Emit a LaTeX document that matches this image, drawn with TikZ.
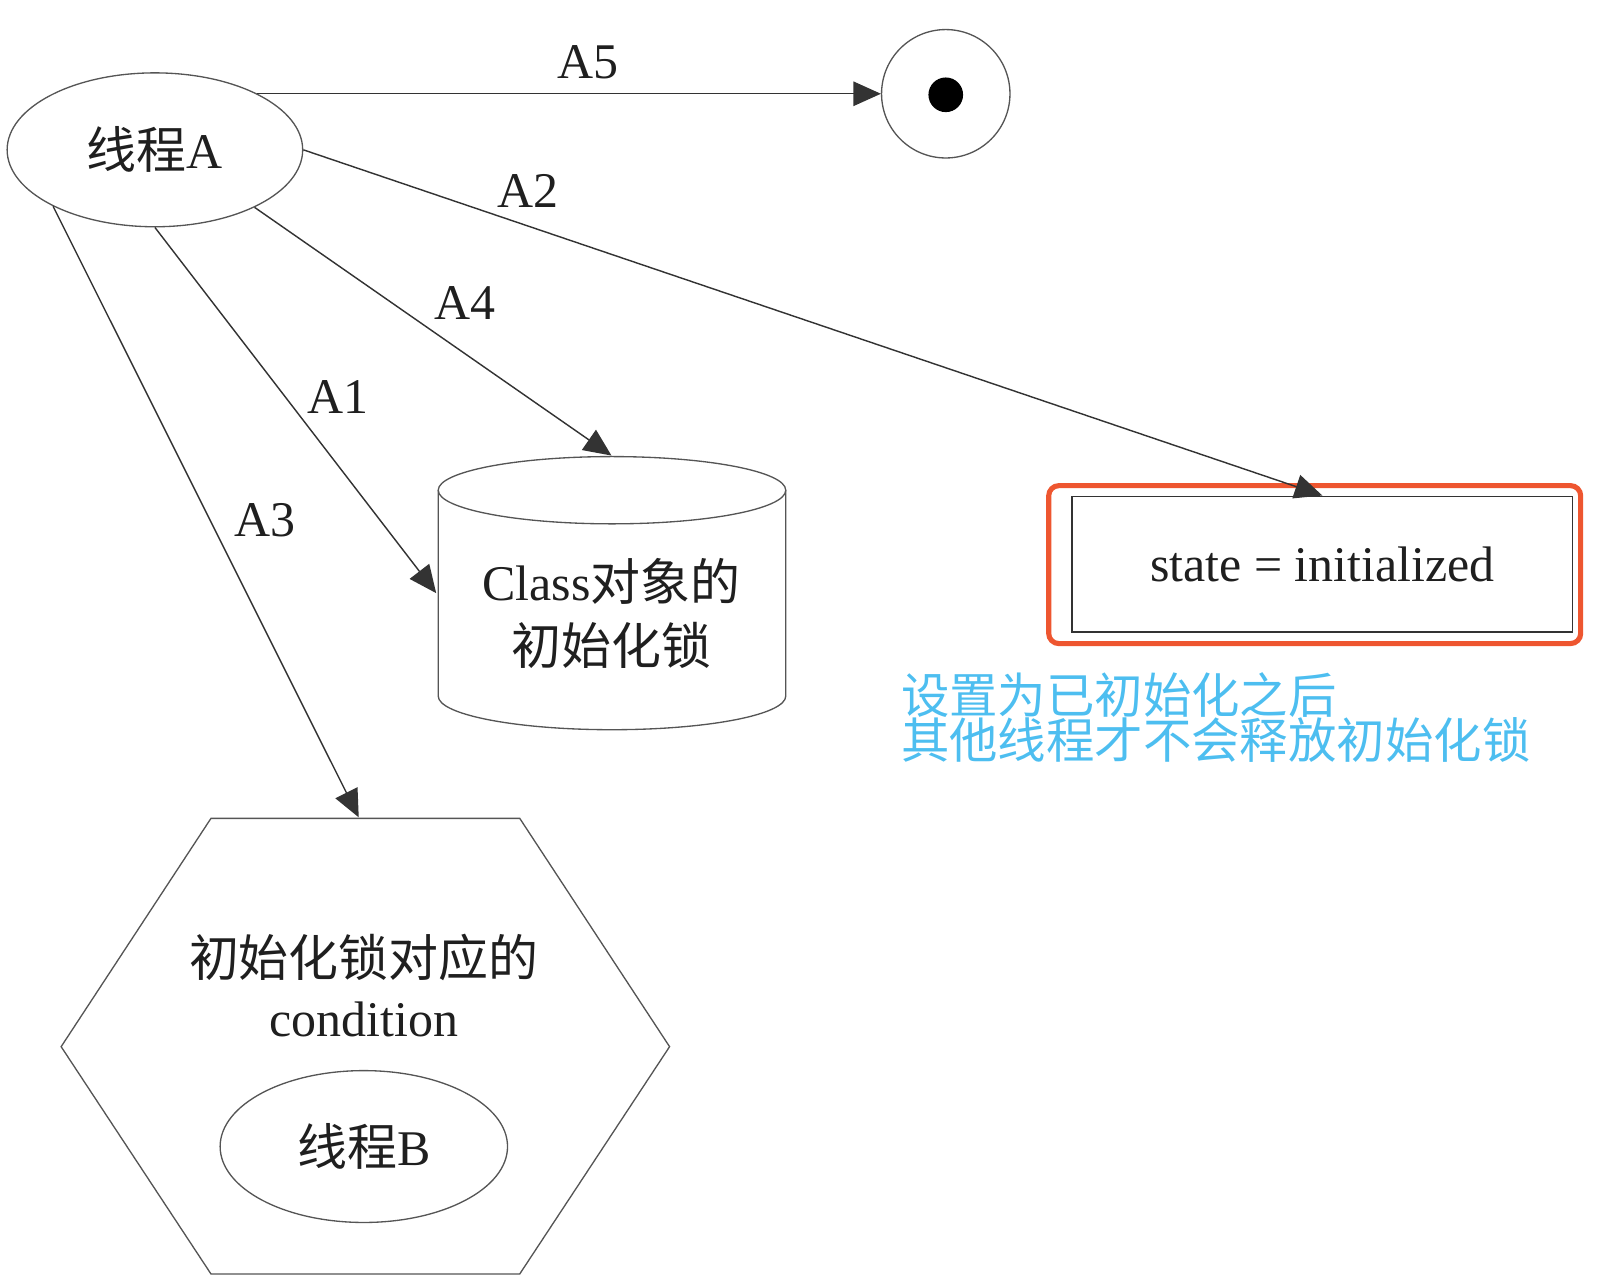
\documentclass[tikz,border=0pt]{standalone}
\usepackage{fontspec}
\setmainfont{Liberation Serif}
\newfontfamily\cjk{Noto Sans CJK SC}
\usetikzlibrary{arrows.meta,shapes.geometric}
\definecolor{hlred}{HTML}{EE5630}
\definecolor{noteblue}{HTML}{4DBEF0}
\definecolor{shapegray}{HTML}{555555}
\definecolor{linegray}{HTML}{333333}
\tikzset{
  bigtext/.style={font=\fontsize{49}{62}\selectfont, text=black!88},
  oval/.style={ellipse, draw=shapegray, line width=1.3pt, bigtext},
  conn/.style={draw=linegray, line width=1.4pt, -{Triangle[length=27pt,width=24pt]}},
  lbl/.style={bigtext, inner sep=0pt},
}
\begin{document}
\begin{tikzpicture}[x=1pt,y=1pt]
\useasboundingbox (0,0) rectangle (1568,-1262);
% thread A
\node[oval, minimum width=290pt, minimum height=151pt] (A) at (152,-147) {{\cjk 线程}A};
% final state
\node[circle, draw=shapegray, line width=1.3pt, minimum size=126pt] (end) at (928,-92) {};
\node[circle, fill=black, minimum size=34pt, inner sep=0pt] (dot) at (928,-93) {};
% cylinder
\draw[shapegray, line width=1.3pt] (430,-481) -- (430,-683) arc[start angle=180, end angle=360, x radius=170.5pt, y radius=33pt] -- (771,-481);
\draw[shapegray, line width=1.3pt] (600.5,-481) ellipse[x radius=170.5pt, y radius=33pt];
\node[bigtext, align=center, inner sep=0pt] (cyl) at (600,-602) {Class{\cjk 对象的}\\{\cjk 初始化锁}};
\coordinate (cyltop) at (600,-447);
\coordinate (cylleft) at (428,-582);
% state box
\node[draw=linegray, line width=1.6pt, minimum width=491pt, minimum height=133pt, bigtext] (st) at (1297.5,-553.5) {state = initialized};
\node[draw=hlred, line width=5pt, rounded corners=10pt, minimum width=522pt, minimum height=155pt] (hl) at (1290,-554) {};
% note
\node[anchor=west, align=left, inner sep=0pt, text=noteblue, font=\cjk\fontsize{47.5}{45}\selectfont] (note) at (884,-704) {设置为已初始化之后\\其他线程才不会释放初始化锁};
% hexagon
\draw[shapegray, line width=1.3pt] (207,-803) -- (510,-803) -- (657,-1027) -- (510,-1250) -- (207,-1250) -- (60,-1027) -- cycle;
\coordinate (hextop) at (352,-802);
\node[bigtext, align=center, inner sep=0pt, font=\fontsize{49}{58}\selectfont] (cond) at (357,-967) {{\cjk 初始化锁对应的}\\condition};
\node[oval, minimum width=282pt, minimum height=149pt] (B) at (357,-1125) {{\cjk 线程}B};
% connectors
\draw[conn] (A.29 |- end.west) -- node[lbl, above=14pt, pos=0.53] (l5) {A5} (end.west);
\draw[conn] (A.0) -- (st.north);
\draw[conn] (A.-30) -- (cyltop);
\draw[conn] (A.south) -- (cylleft);
\draw[conn] (A.-151) -- (hextop);
\node[lbl] (l2) at (518,-187) {A2};
\node[lbl] (l4) at (456,-297) {A4};
\node[lbl] (l1) at (332,-390) {A1};
\node[lbl] (l3) at (260,-510) {A3};
\end{tikzpicture}
\end{document}
